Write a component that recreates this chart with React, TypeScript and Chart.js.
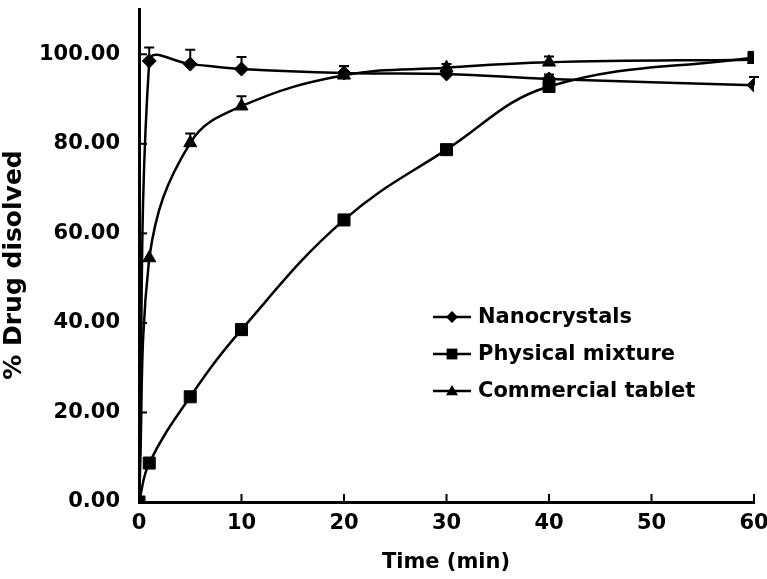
import React, { useEffect, useRef } from "react";
import { Chart, registerables } from "chart.js";

Chart.register(...registerables);

const times = [0, 1, 5, 10, 20, 30, 40, 60];
const nanocrystals = [0, 98.5, 97.8, 96.7, 95.8, 95.6, 94.5, 93.1];
const physicalMixture = [0, 8.7, 23.5, 38.5, 63.0, 78.7, 92.8, 99.3];
const commercialTablet = [0, 54.5, 80.2, 88.4, 95.3, 97.0, 98.2, 98.8];
const nanocrystalsErr = [0, 3.0, 3.2, 2.7, 1.5, 0.8, 1.0, 1.8];
const physicalMixtureErr = [0, 0, 0, 0, 0, 0, 0, 0];
const commercialTabletErr = [0, 0, 2.1, 2.2, 2.1, 0.8, 1.3, 0];
const seriesNames = ["Nanocrystals", "Physical mixture", "Commercial tablet"];
const yTicks = [0, 20, 40, 60, 80, 100];
const xTicks = [0, 10, 20, 30, 40, 50, 60];
const xTitle = "Time (min)";
const yTitle = "% Drug disolved";

const FONT = "'DejaVu Sans', sans-serif";

const toPts = (ys: number[]) => times.map((t, i) => ({ x: t, y: ys[i] }));

export default function App() {
  const ref = useRef<HTMLCanvasElement | null>(null);

  useEffect(() => {
    if (!ref.current) return;
    const errs = [nanocrystalsErr, physicalMixtureErr, commercialTabletErr];
    const styles = ["rectRot", "rect", "triangle"];

    function drawMarker(ctx: CanvasRenderingContext2D, style: string, x: number, y: number, r: number) {
      ctx.save();
      ctx.fillStyle = "#000";
      ctx.beginPath();
      if (style === "rectRot") {
        ctx.moveTo(x, y - r);
        ctx.lineTo(x + r, y);
        ctx.lineTo(x, y + r);
        ctx.lineTo(x - r, y);
      } else if (style === "rect") {
        const s = r * 0.9;
        ctx.rect(x - s, y - s, 2 * s, 2 * s);
      } else {
        ctx.moveTo(x, y - r);
        ctx.lineTo(x + r, y + r * 0.7);
        ctx.lineTo(x - r, y + r * 0.7);
      }
      ctx.closePath();
      ctx.fill();
      ctx.restore();
    }

    const deco = {
      id: "deco",
      afterDatasetsDraw(chart: any) {
        const ctx = chart.ctx;
        const xs = chart.scales.x;
        const ys = chart.scales.y;
        ctx.save();
        ctx.strokeStyle = "#000";
        ctx.lineWidth = 2;
        errs.forEach((errArr, di) => {
          const vals = chart.data.datasets[di].data;
          errArr.forEach((e, i) => {
            if (!e) return;
            const px = xs.getPixelForValue(vals[i].x);
            const py = ys.getPixelForValue(vals[i].y);
            const pt = ys.getPixelForValue(vals[i].y + e);
            ctx.beginPath();
            ctx.moveTo(px, py);
            ctx.lineTo(px, pt);
            ctx.moveTo(px - 5, pt);
            ctx.lineTo(px + 5, pt);
            ctx.stroke();
          });
        });
        ctx.restore();
      },
      afterDraw(chart: any) {
        const ctx = chart.ctx;
        const xs = chart.scales.x;
        const ys = chart.scales.y;
        const area = chart.chartArea;
        ctx.save();
        ctx.strokeStyle = "#000";
        ctx.lineWidth = 2;
        xTicks.forEach((v) => {
          if (v === 0) return;
          const px = xs.getPixelForValue(v);
          ctx.beginPath();
          ctx.moveTo(px, area.bottom);
          ctx.lineTo(px, area.bottom - 8);
          ctx.stroke();
        });
        yTicks.forEach((v) => {
          if (v === 0) return;
          const py = ys.getPixelForValue(v);
          ctx.beginPath();
          ctx.moveTo(area.left, py);
          ctx.lineTo(area.left + 8, py);
          ctx.stroke();
        });
        ctx.fillStyle = "#000";
        ctx.font = `bold 21px ${FONT}`;
        ctx.textAlign = "center";
        ctx.textBaseline = "middle";
        ctx.fillText(xTitle, 446, 563);
        ctx.save();
        ctx.translate(14, 265);
        ctx.rotate(-Math.PI / 2);
        ctx.font = `bold 25px ${FONT}`;
        ctx.fillText(yTitle, 0, 0);
        ctx.restore();
        const rows = [317, 354, 391];
        seriesNames.forEach((name, i) => {
          const y = rows[i];
          ctx.lineWidth = 2.5;
          ctx.beginPath();
          ctx.moveTo(433, y);
          ctx.lineTo(471, y);
          ctx.stroke();
          drawMarker(ctx, styles[i], 452, y, 6);
          ctx.font = `bold 21px ${FONT}`;
          ctx.textAlign = "left";
          ctx.textBaseline = "middle";
          ctx.fillText(name, 478, y + 1);
        });
        ctx.restore();
      },
    };

    const mk = (label: string, ys: number[], style: string, radius: number) => ({
      label,
      data: toPts(ys),
      borderColor: "#000",
      backgroundColor: "#000",
      borderWidth: 2.5,
      pointStyle: style,
      pointRadius: radius,
      pointBorderWidth: 1,
      pointBackgroundColor: "#000",
      pointBorderColor: "#000",
      tension: 0.4,
      fill: false,
    });

    const chart = new Chart(ref.current, {
      type: "line",
      data: {
        datasets: [
          mk(seriesNames[0], nanocrystals, "rectRot", 7),
          mk(seriesNames[1], physicalMixture, "rect", 8.5),
          mk(seriesNames[2], commercialTablet, "triangle", 7.5),
        ],
      },
      plugins: [deco],
      options: {
        animation: false,
        responsive: false,
        maintainAspectRatio: false,
        layout: { padding: { top: 2, right: 13, left: 0, bottom: 0 } },
        plugins: {
          legend: { display: false },
          tooltip: { enabled: false },
        },
        scales: {
          x: {
            type: "linear",
            min: 0,
            max: 60,
            grid: { display: false, drawTicks: false },
            border: { display: true, color: "#000", width: 3 },
            afterFit: (s: any) => {
              s.height = 77;
              s.paddingLeft = 0;
              s.paddingRight = 0;
            },
            afterBuildTicks: (s: any) => {
              s.ticks = xTicks.map((v) => ({ value: v }));
            },
            ticks: {
              color: "#000",
              padding: 9,
              maxRotation: 0,
              autoSkip: false,
              font: { family: FONT, size: 21, weight: "bold" },
            },
          },
          y: {
            type: "linear",
            min: 0,
            max: 110,
            grid: { display: false, drawTicks: false },
            border: { display: true, color: "#000", width: 3 },
            afterFit: (s: any) => {
              s.width = 139;
              s.paddingTop = 0;
              s.paddingBottom = 0;
            },
            afterBuildTicks: (s: any) => {
              s.ticks = yTicks.map((v) => ({ value: v }));
            },
            ticks: {
              color: "#000",
              padding: 19,
              autoSkip: false,
              font: { family: FONT, size: 21, weight: "bold" },
              callback: (v: any) => Number(v).toFixed(2),
            },
          },
        },
      },
    });
    return () => chart.destroy();
  }, []);

  return (
    <div style={{ position: "fixed", left: 0, top: 0, width: 767, height: 579, background: "#fff" }}>
      <canvas ref={ref} width={767} height={579} style={{ display: "block" }} />
    </div>
  );
}
